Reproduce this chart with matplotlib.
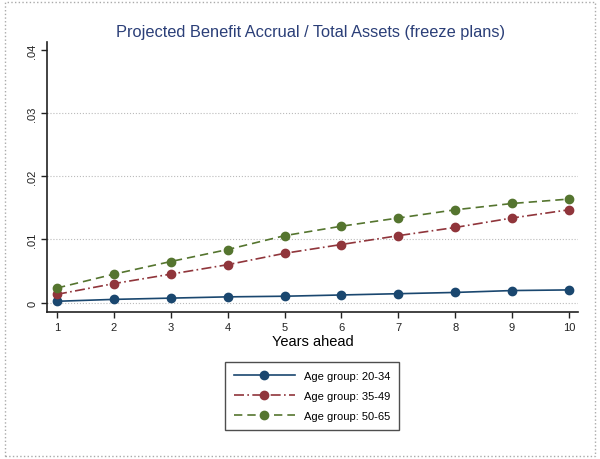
import matplotlib
matplotlib.use("Agg")
import matplotlib.pyplot as plt
from matplotlib.patches import Rectangle
from matplotlib.ticker import FuncFormatter

plt.rcParams['font.family'] = ['Liberation Sans', 'DejaVu Sans']

years = [1, 2, 3, 4, 5, 6, 7, 8, 9, 10]
age_20_34 = [0.0002, 0.0005, 0.0007, 0.0009, 0.0010, 0.0012, 0.0014, 0.0016, 0.0019, 0.0020]
age_35_49 = [0.0013, 0.0030, 0.0045, 0.0060, 0.0078, 0.0092, 0.0106, 0.0119, 0.0134, 0.0147]
age_50_65 = [0.0023, 0.0045, 0.0065, 0.0084, 0.0106, 0.0121, 0.0134, 0.0147, 0.0157, 0.0164]
y_ticks = [0, 0.01, 0.02, 0.03, 0.04]
grid_levels = [0, 0.01, 0.02, 0.03]

fig = plt.figure(figsize=(6, 4.6), dpi=100)
ax = fig.add_axes([47 / 600, (460 - 313) / 460, (578 - 47) / 600, (313 - 43) / 460])

# outer dotted frame like the Stata graph region
fig.patches.append(Rectangle((0.008, 0.006), 0.984, 0.988, transform=fig.transFigure,
                             fill=False, ec='#aaaaaa', lw=1, ls=':'))

# dotted grid lines (none at the top tick, as in Stata)
for g in grid_levels:
    ax.axhline(g, color='#bbbbbb', ls=':', lw=0.8, zorder=0)

ax.plot(years, age_20_34, color='#1a476f', marker='o', ms=6, lw=1.2, ls='-',
        label='Age group: 20-34')
ax.plot(years, age_35_49, color='#90353b', marker='o', ms=6, lw=1.2, ls=(0, (6, 2, 1, 2)),
        label='Age group: 35-49')
ax.plot(years, age_50_65, color='#55752f', marker='o', ms=6, lw=1.2, ls=(0, (5, 3)),
        label='Age group: 50-65')

ax.set_xlim(0.824, 10.16)
ax.set_ylim(-0.0015, 0.0413)
ax.set_xticks(years)
ax.set_yticks(y_ticks)
ax.yaxis.set_major_formatter(FuncFormatter(lambda v, p: '0' if v == 0 else ('%.2f' % v).lstrip('0')))
for lab in ax.get_yticklabels():
    lab.set_rotation(90)
    lab.set_va('center')
ax.tick_params(axis='both', direction='out', length=4, width=1, labelsize=8, colors='#222222')
ax.tick_params(axis='y', pad=3)
for s in ['top', 'right']:
    ax.spines[s].set_visible(False)
for s in ['left', 'bottom']:
    ax.spines[s].set_color('#222222')
    ax.spines[s].set_linewidth(1.2)

ax.set_xlabel('Years ahead', fontsize=10.5, labelpad=1)
fig.text(311 / 600, 1 - 32 / 460, 'Projected Benefit Accrual / Total Assets (freeze plans)',
         ha='center', va='center', fontsize=11.8, color='#2b3f78')

leg = fig.legend(loc='center', bbox_to_anchor=(312 / 600, 1 - 397 / 460), fontsize=8,
                 handlelength=5.5, frameon=True, fancybox=False, edgecolor='#222222',
                 borderpad=0.8, labelspacing=0.9)
leg.get_frame().set_linewidth(1)

fig.savefig('out.png', dpi=100)
